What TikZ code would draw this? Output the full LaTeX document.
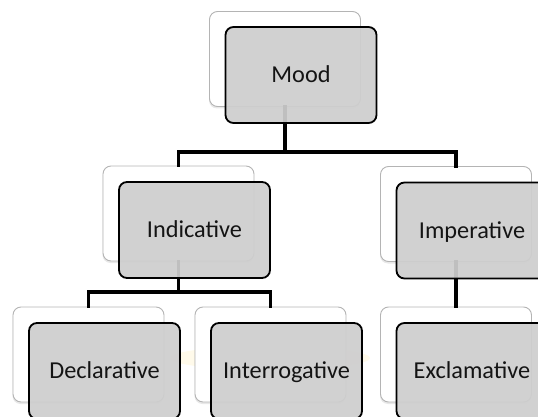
\documentclass[tikz,border=0pt]{standalone}
\usepackage{fontspec}
\setmainfont{Carlito}
\usetikzlibrary{shadows}
\definecolor{frontfill}{RGB}{206,206,206}
\definecolor{backedge}{RGB}{180,180,180}
\definecolor{txt}{RGB}{20,20,20}
\definecolor{glow}{RGB}{255,236,170}
\tikzset{
  backbox/.style={draw=backedge, line width=0.9pt, fill=white, rounded corners=8pt,
    minimum width=151pt, minimum height=95pt, inner sep=0pt,
    drop shadow={opacity=0.18, shadow xshift=-0.5pt, shadow yshift=-2pt}},
  frontbox/.style={draw=black, line width=1.8pt, fill=frontfill, fill opacity=0.93,
    text opacity=1, rounded corners=8pt, minimum width=151pt, minimum height=96pt,
    inner sep=0pt, text=txt, font=\fontsize{24.3}{27}\selectfont,
    text height=17pt, text depth=1.5pt},
  conn/.style={draw=black, line width=3.2pt, line join=miter, line cap=rect}
}
\begin{document}
\begin{tikzpicture}[x=1pt,y=-1pt]
\useasboundingbox (0,0) rectangle (538,417);
\clip (0,0) rectangle (538,417);
% faint watermark glow
\fill[glow, opacity=0.25] (270,358) ellipse (100pt and 12pt);
% back boxes
\node[backbox] (moodb) at (285,59) {};
\node[backbox] (indb) at (178.5,213.5) {};
\node[backbox] (impb) at (456,214) {};
\node[backbox] (decb) at (88.5,354.5) {};
\node[backbox] (intb) at (270.5,354.5) {};
\node[backbox] (excb) at (456,354.5) {};
% connectors
\coordinate (bar1) at (285,152);
\coordinate (bar2) at (178.5,292);
\draw[conn] (moodb.south) -- (bar1) -| (indb.north);
\draw[conn] (bar1) -| (impb.north);
\draw[conn] (indb.south) -- (bar2) -| (decb.north);
\draw[conn] (bar2) -| (intb.north);
\draw[conn] (impb.south) -- (excb.north);
% front boxes
\node[frontbox] (mood) at (301,75) {Mood};
\node[frontbox] (ind) at (194.5,230) {Indicative};
\node[frontbox] (imp) at (472,230.5) {Imperative};
\node[frontbox] (dec) at (104.5,371) {Declarative};
\node[frontbox] (int) at (286.5,371) {Interrogative};
\node[frontbox] (exc) at (472,371) {Exclamative};
\end{tikzpicture}
\end{document}
